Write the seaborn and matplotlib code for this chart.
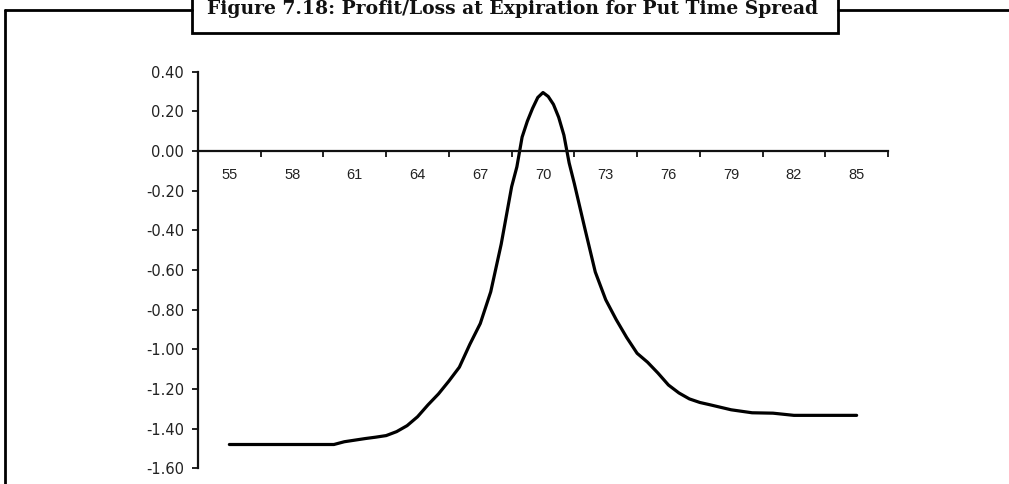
import numpy as np
import pandas as pd
import seaborn as sns
import matplotlib.pyplot as plt
from matplotlib.lines import Line2D
from matplotlib.patches import Rectangle
from matplotlib.ticker import FormatStrFormatter

# data
stock_price = [55, 56, 57, 58, 59, 60, 60.5, 61, 61.5, 62, 62.5, 63, 63.5, 64, 64.5,
               65, 65.5, 66, 66.5, 67, 67.5, 68, 68.5, 68.75, 69, 69.25, 69.5, 69.75,
               70, 70.25, 70.5, 70.75, 71, 71.25, 71.5, 72, 72.5, 73, 73.5, 74, 74.5,
               75, 75.5, 76, 76.5, 77, 77.5, 78, 79, 80, 81, 82, 83, 84, 85]
profit_loss = [-1.48, -1.48, -1.48, -1.48, -1.48, -1.48, -1.466, -1.458, -1.45, -1.443,
               -1.435, -1.415, -1.385, -1.34, -1.28, -1.225, -1.16, -1.09, -0.975, -0.87,
               -0.71, -0.47, -0.18, -0.08, 0.07, 0.15, 0.215, 0.27, 0.295, 0.275, 0.235,
               0.17, 0.08, -0.06, -0.165, -0.39, -0.61, -0.75, -0.85, -0.94, -1.02,
               -1.065, -1.12, -1.18, -1.22, -1.25, -1.268, -1.28, -1.305, -1.32, -1.322,
               -1.333, -1.333, -1.333, -1.333]
x_labels = [55, 58, 61, 64, 67, 70, 73, 76, 79, 82, 85]
y_ticks = [0.4, 0.2, 0.0, -0.2, -0.4, -0.6, -0.8, -1.0, -1.2, -1.4, -1.6]
title = "Figure 7.18: Profit/Loss at Expiration for Put Time Spread"

W, H = 1009, 484

def fx(px):
    return px / W

def fy(py):
    return 1 - py / H

sns.set_style("white")
plt.rcParams['axes.unicode_minus'] = False

fig = plt.figure(figsize=(W / 100, H / 100), dpi=100)
ax = fig.add_axes([fx(198), fy(468.3), fx(888) - fx(198), fy(71.7) - fy(468.3)])

df = pd.DataFrame({'price': stock_price, 'pl': profit_loss})
sns.lineplot(data=df, x='price', y='pl', color='black', linewidth=2.3, ax=ax)

ax.set_xlim(53.5, 86.5)
ax.set_ylim(-1.6, 0.4)
ax.set_xlabel('')
ax.set_ylabel('')

ax.spines['top'].set_visible(False)
ax.spines['right'].set_visible(False)
ax.spines['bottom'].set_position(('data', 0))
for s in ['left', 'bottom']:
    ax.spines[s].set_linewidth(1.6)
    ax.spines[s].set_color('#111111')

# tick marks between the labels, labels on the minor ticks
ax.set_xticks(np.arange(53.5, 87, 3))
ax.set_xticklabels([])
ax.set_xticks(x_labels, minor=True)
ax.set_xticklabels([str(v) for v in x_labels], minor=True)
ax.tick_params(axis='x', which='major', direction='out', length=4, width=1.3,
               bottom=True, color='#111111')
ax.tick_params(axis='x', which='minor', length=0, pad=12, labelsize=10.5,
               labelcolor='#222222', labelfontfamily='Liberation Sans')

ax.set_yticks(y_ticks)
ax.yaxis.set_major_formatter(FormatStrFormatter('%.2f'))
ax.tick_params(axis='y', direction='out', length=4, width=1.3, left=True, pad=6,
               labelsize=10.5, labelcolor='#222222', color='#111111',
               labelfontfamily='DejaVu Sans')

# outer frame and title box
fig.add_artist(Line2D([fx(5), fx(5)], [fy(10), fy(490)], color='black', lw=2,
                      transform=fig.transFigure))
fig.add_artist(Line2D([fx(5), fx(192)], [fy(10), fy(10)], color='black', lw=2,
                      transform=fig.transFigure))
fig.add_artist(Line2D([fx(838), fx(1015)], [fy(10), fy(10)], color='black', lw=2,
                      transform=fig.transFigure))
fig.add_artist(Rectangle((fx(192), fy(32.5)), fx(838) - fx(192), fy(-5) - fy(32.5),
                         facecolor='white', edgecolor='black', lw=2,
                         transform=fig.transFigure, clip_on=False))
fig.text(fx(513), fy(14), title, ha='center', va='baseline', fontsize=13.5,
         fontweight='bold', family='DejaVu Serif', color='#111111')

fig.savefig('out.png', dpi=100)
